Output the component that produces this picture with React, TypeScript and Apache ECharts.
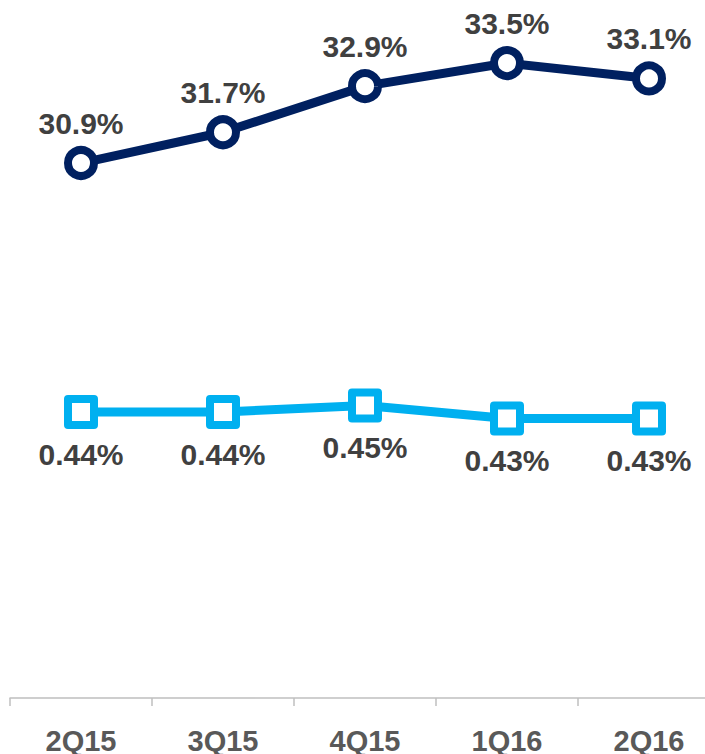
import React, { useEffect, useRef } from "react";
import * as echarts from "echarts";

const categories = ["2Q15", "3Q15", "4Q15", "1Q16", "2Q16"];
const topSeries = [30.9, 31.7, 32.9, 33.5, 33.1];
const bottomSeries = [0.44, 0.44, 0.45, 0.43, 0.43];
const topLabels = ["30.9%", "31.7%", "32.9%", "33.5%", "33.1%"];
const bottomLabels = ["0.44%", "0.44%", "0.45%", "0.43%", "0.43%"];

export default function App() {
  const ref = useRef<HTMLDivElement>(null);
  useEffect(() => {
    if (!ref.current) return;
    const chart = echarts.init(ref.current, undefined, { renderer: "svg" });
    const font = "Liberation Sans";
    chart.setOption({
      animation: false,
      backgroundColor: "#ffffff",
      grid: { left: 10, top: 0, right: 0, bottom: 45, containLabel: false, outerBoundsMode: "none" },
      xAxis: {
        type: "category",
        data: categories,
        boundaryGap: true,
        axisLine: { show: true, lineStyle: { color: "#bfbfbf", width: 1.5 } },
        axisTick: { show: true, length: 8, lineStyle: { color: "#bfbfbf", width: 1.5 } },
        axisLabel: {
          color: "#595959",
          fontFamily: font,
          fontWeight: "bold",
          fontSize: 29,
          margin: 17,
        },
        splitLine: { show: false },
      },
      yAxis: [
        { type: "value", min: 16.7, max: 35.14, show: false, splitLine: { show: false } },
        { type: "value", min: -0.017, max: 1.074, show: false, splitLine: { show: false } },
      ],
      series: [
        {
          type: "line",
          yAxisIndex: 0,
          data: topSeries,
          lineStyle: { color: "#002060", width: 9 },
          symbol: "circle",
          symbolSize: 26,
          itemStyle: { color: "#ffffff", borderColor: "#002060", borderWidth: 8 },
          label: {
            show: true,
            position: "top",
            distance: 8,
            formatter: (p: any) => topLabels[p.dataIndex],
            color: "#404040",
            fontFamily: font,
            fontWeight: "bold",
            fontSize: 30,
          },
        },
        {
          type: "line",
          yAxisIndex: 1,
          data: bottomSeries,
          lineStyle: { color: "#00b0f0", width: 9 },
          symbol: "rect",
          symbolSize: 26,
          itemStyle: { color: "#ffffff", borderColor: "#00b0f0", borderWidth: 8, borderJoin: "round" },
          label: {
            show: true,
            position: "bottom",
            distance: 10,
            formatter: (p: any) => bottomLabels[p.dataIndex],
            color: "#404040",
            fontFamily: font,
            fontWeight: "bold",
            fontSize: 30,
          },
        },
      ],
    });
    return () => chart.dispose();
  }, []);
  return (
    <div style={{ position: "fixed", left: 0, top: 0, width: 705, height: 754, overflow: "hidden" }}>
      <div ref={ref} style={{ width: 720, height: 754 }} />
    </div>
  );
}
